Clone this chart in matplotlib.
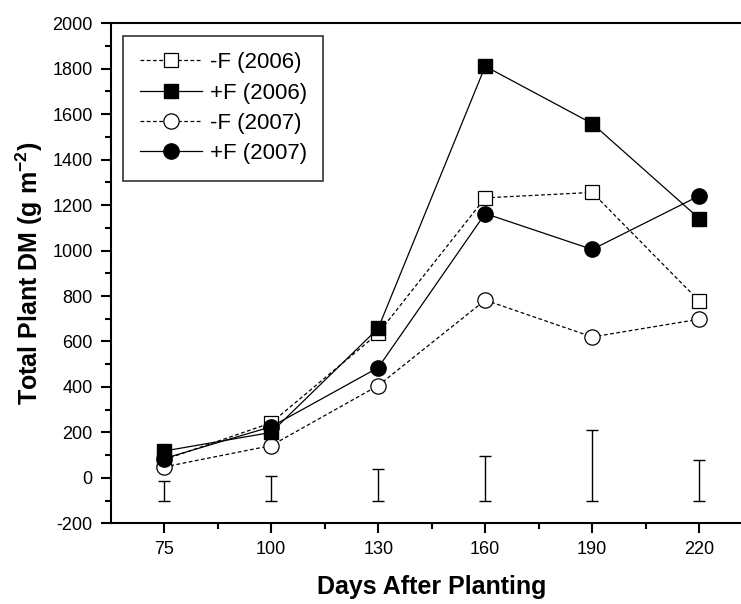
import numpy as np
import matplotlib
matplotlib.use("Agg")
import matplotlib.pyplot as plt
from matplotlib.ticker import MultipleLocator, FixedLocator

plt.rcParams["font.family"] = ["Liberation Sans", "DejaVu Sans"]
plt.rcParams["mathtext.fontset"] = "custom"
plt.rcParams["mathtext.rm"] = "Liberation Sans"
plt.rcParams["mathtext.bf"] = "Liberation Sans:bold"
plt.rcParams["axes.unicode_minus"] = False

# ── data ─────────────────────────────────────────────────────────────────────
days = ["75", "100", "130", "160", "190", "220"]
minus_f_2006 = [80, 242, 636, 1232, 1256, 778]
plus_f_2006 = [118, 200, 658, 1811, 1559, 1141]
minus_f_2007 = [48, 142, 406, 782, 620, 698]
plus_f_2007 = [85, 225, 485, 1163, 1005, 1241]

# LSD bars drawn near the bottom
lsd_low = [-100, -100, -100, -100, -100, -100]
lsd_high = [-13, 10, 38, 98, 212, 80]

x = np.arange(len(days))

fig = plt.figure(figsize=(7.41, 6.04), dpi=100)
# right side of the axes runs past the figure edge (cropped like the source)
ax = fig.add_axes([0.1494, 0.1336, 0.8664, 0.8278])

dash = (0, (3.0, 2.0))
common = dict(color="black", linewidth=0.9)

ax.plot(x, minus_f_2006, linestyle=dash, marker="s", markersize=10.5,
        markerfacecolor="white", markeredgecolor="black", markeredgewidth=0.9,
        label="-F (2006)", zorder=3, **common)
ax.plot(x, plus_f_2006, linestyle="-", marker="s", markersize=10.5,
        markerfacecolor="black", markeredgecolor="black",
        label="+F (2006)", zorder=4, **common)
ax.plot(x, minus_f_2007, linestyle=dash, marker="o", markersize=11,
        markerfacecolor="white", markeredgecolor="black", markeredgewidth=0.9,
        label="-F (2007)", zorder=3, **common)
ax.plot(x, plus_f_2007, linestyle="-", marker="o", markersize=11,
        markerfacecolor="black", markeredgecolor="black",
        label="+F (2007)", zorder=5, **common)

lo = np.array(lsd_low, dtype=float)
hi = np.array(lsd_high, dtype=float)
ax.errorbar(x, (lo + hi) / 2, yerr=(hi - lo) / 2, fmt="none",
            ecolor="black", elinewidth=1.0, capsize=4, capthick=1.0)

ax.set_xlim(-0.5, 5.5)
ax.set_ylim(-200, 2000)
ax.xaxis.set_major_locator(FixedLocator(x))
ax.xaxis.set_minor_locator(FixedLocator(x[:-1] + 0.5))
ax.set_xticks(x, days)
ax.yaxis.set_major_locator(MultipleLocator(200))
ax.yaxis.set_minor_locator(MultipleLocator(100))

ax.tick_params(axis="both", which="major", direction="out", length=7,
               width=1.5, labelsize=13, pad=6)
ax.tick_params(axis="both", which="minor", direction="out", length=4,
               width=1.5)
ax.tick_params(axis="x", which="both", top=False)
ax.tick_params(axis="y", which="both", right=False)

for side in ("left", "bottom", "top"):
    ax.spines[side].set_linewidth(1.5)
ax.spines["right"].set_visible(False)

ax.set_xlabel("Days After Planting", fontsize=18, fontweight="bold", labelpad=12)
ax.set_ylabel(r"Total Plant DM (g m$^{\mathbf{-2}}$)", fontsize=18,
              fontweight="bold", labelpad=5)

leg = ax.legend(loc="upper left", fontsize=16, frameon=True, fancybox=False,
                edgecolor="black", handlelength=2.8, handletextpad=0.35,
                borderaxespad=0.55, labelspacing=0.42, borderpad=0.75)
leg.get_frame().set_linewidth(1.2)

fig.savefig("out.png", dpi=100)
